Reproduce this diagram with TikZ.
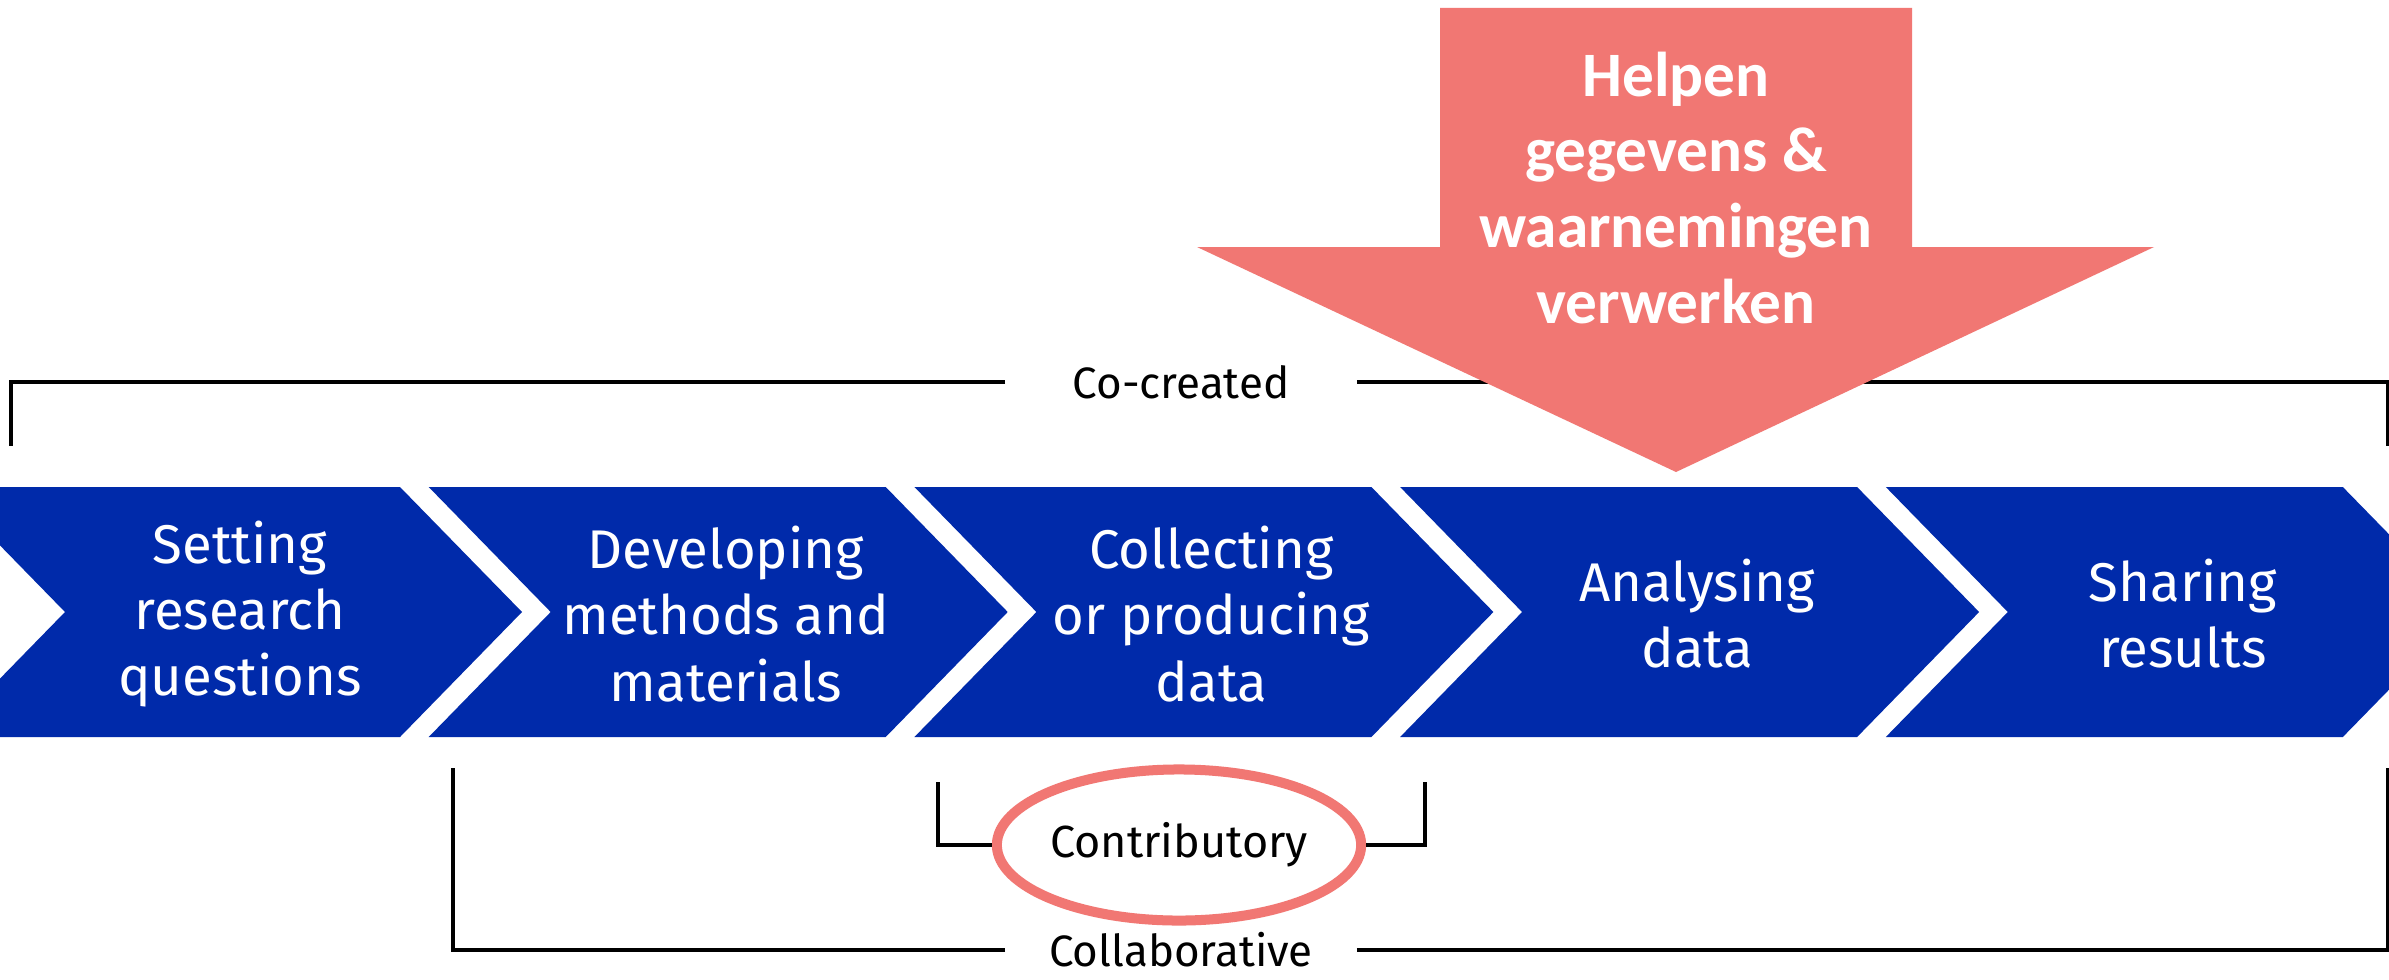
\documentclass[tikz,border=0pt]{standalone}
\usepackage{fontspec}
\setmainfont{Fira Sans}
\newfontfamily\calib{Carlito}
\usepackage{xcolor}
\usepackage{tikz}
\usetikzlibrary{positioning,shapes,calc}
\definecolor{stepblue}{RGB}{0,42,170}
\definecolor{hlred}{RGB}{241,119,115}
\tikzstyle{stp}=[%
      rectangle, draw=none, text=white, align=center,
      font=\fontsize{15.5}{18.8}\selectfont, inner sep=0pt
]
\tikzstyle{lbl}=[%
      rectangle, draw=none, text=black, align=center,
      font=\fontsize{12.5}{15}\selectfont, minimum width=3.5cm, inner sep=0pt
]
\tikzstyle{brk}=[%
      draw=black, line width=1.15pt
]
\tikzstyle{hl}=[%
      ellipse, draw=hlred, line width=0.1cm, fill=none,
      minimum width=3.43cm, minimum height=1.51cm, inner sep=0pt,
      font=\fontsize{12.8}{15}\selectfont
]

\begin{document}
\begin{tikzpicture}[x=0.01cm, y=-0.01cm,
  %  node distance=1cm,
    tip/.style={%
      text=white, align=center, inner sep=0pt,
      font=\calib\bfseries\fontsize{18}{21.6}\selectfont
    },
]
    \clip (0,0) rectangle (2389,979);
    \fill[white] (0,0) rectangle (2389,979);

    % steps
    \foreach \i/\t in {0/{Setting\\research\\questions},
                       1/{Developing\\methods and\\materials},
                       2/{Collecting\\or producing\\data},
                       3/{Analysing\\data},
                       4/{Sharing\\results}}
    {
      \pgfmathsetmacro{\xl}{-57+485.7*\i}
      \fill[stepblue] (\xl,487) -- ++(457,0) -- ++(122,125) -- ++(-122,125)
                      -- ++(-457,0) -- ++(122,-125) -- cycle;
      \node[stp] (s\i) at (\xl+297,614) {\t};
    }

    % brackets
    \node[lbl]  (cocr)    at (1181,382) {Co-created};
    \node[lbl]  (colab)   at (1181,950) {Collaborative};
    \node[hl]   (contrib) at (1179,845) {Contributory};
    \coordinate (ccL) at (11,446);
    \coordinate (ccR) at (2388,446);
    \coordinate (clL) at (453,768);
    \coordinate (clR) at (2388,768);
    \coordinate (ctL) at (938,782);
    \coordinate (ctR) at (1425,782);
    \draw[brk] (cocr.west) -| (ccL);
    \draw[brk] (cocr.east) -| (ccR);
    \draw[brk] (colab.west) -| (clL);
    \draw[brk] (colab.east) -| (clR);
    \draw[brk] (contrib.west) -| (ctL);
    \draw[brk] (contrib.east) -| (ctR);

    % arrow
    \fill[hlred] (1440,8) -- (1912,8) -- (1912,247) -- (2154,247)
                 -- (1676,472) -- (1197,247) -- (1440,247) -- cycle;
    \node[tip] (help) at (1676,188) {Helpen\\gegevens \&\\waarnemingen\\verwerken};
  \end{tikzpicture}
\end{document}
